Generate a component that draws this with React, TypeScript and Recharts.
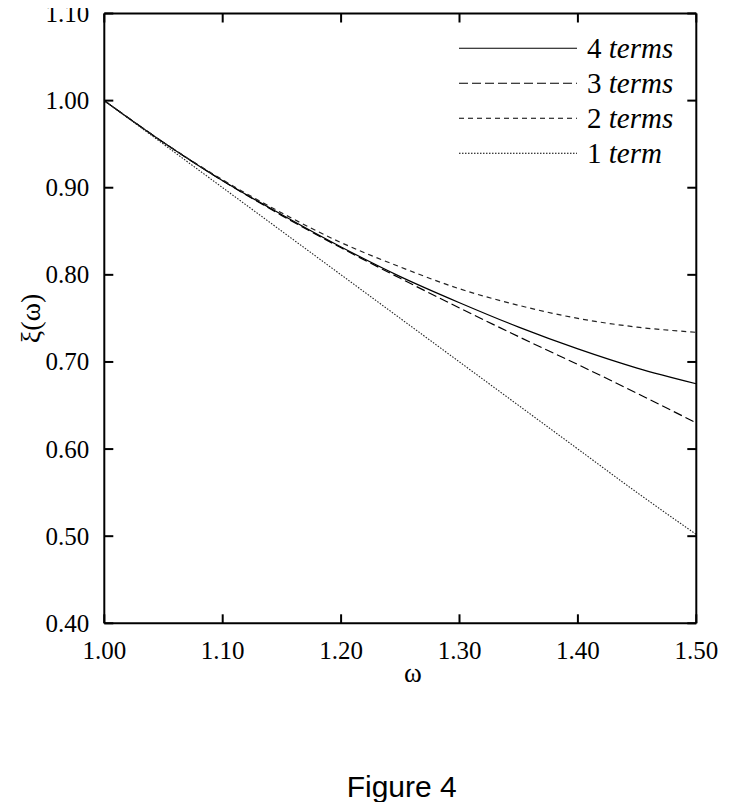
import React from 'react';
import { LineChart, Line, XAxis, YAxis } from 'recharts';

const omega = [1.0, 1.05, 1.1, 1.15, 1.2, 1.25, 1.3, 1.35, 1.4, 1.45, 1.5];
const term4 = [1.0, 0.952, 0.908, 0.869, 0.832, 0.798, 0.768, 0.74, 0.715, 0.693, 0.675];
const term3 = [1.0, 0.952, 0.908, 0.868, 0.831, 0.796, 0.762, 0.729, 0.697, 0.664, 0.63];
const term2 = [1.0, 0.952, 0.909, 0.871, 0.837, 0.809, 0.784, 0.765, 0.75, 0.74, 0.734];
const term1 = [1.0, 0.95, 0.9, 0.85, 0.8, 0.75, 0.7, 0.65, 0.6, 0.55, 0.502];

const xTicks = [1.0, 1.1, 1.2, 1.3, 1.4, 1.5];
const yTicks = [0.4, 0.5, 0.6, 0.7, 0.8, 0.9, 1.0, 1.1];

const seriesNames = ['4 terms', '3 terms', '2 terms', '1 term'];

const data = omega.map((w, i) => ({
  w,
  t4: term4[i],
  t3: term3[i],
  t2: term2[i],
  t1: term1[i],
}));

const SERIF = '"Liberation Serif", "DejaVu Serif", serif';
const TICK = 9;

const BottomTick = (props: any) => {
  const { x, y, payload } = props;
  return (
    <g>
      <line x1={x} y1={y} x2={x} y2={y - TICK} stroke="#000" strokeWidth={2} />
      <text x={x} y={y + 36} textAnchor="middle" fontSize={25} fontFamily={SERIF} fill="#000">
        {Number(payload.value).toFixed(2)}
      </text>
    </g>
  );
};

const TopTick = (props: any) => {
  const { x, y } = props;
  return <line x1={x} y1={y} x2={x} y2={y + TICK} stroke="#000" strokeWidth={2} />;
};

const LeftTick = (props: any) => {
  const { x, y, payload } = props;
  return (
    <g>
      <line x1={x} y1={y} x2={x + TICK} y2={y} stroke="#000" strokeWidth={2} />
      <text x={x - 15} y={y + 8.5} textAnchor="end" fontSize={25} fontFamily={SERIF} fill="#000">
        {Number(payload.value).toFixed(2)}
      </text>
    </g>
  );
};

const RightTick = (props: any) => {
  const { x, y } = props;
  return <line x1={x} y1={y} x2={x - TICK} y2={y} stroke="#000" strokeWidth={2} />;
};

const dashes: Record<string, string | undefined> = {
  '4 terms': undefined,
  '3 terms': '9 4',
  '2 terms': '5 4',
  '1 term': '1.5 1.5',
};

const LegendBox = () => (
  <svg width={280} height={150} style={{ position: 'absolute', left: 440, top: 30, overflow: 'visible' }}>
    {seriesNames.map((name, i) => {
      const cy = 18.3 + i * 35;
      const [num, ...rest] = name.split(' ');
      return (
        <g key={name}>
          <line x1={11} y1={cy} x2={129} y2={cy} stroke="#000" strokeWidth={1.1} strokeDasharray={dashes[name]} />
          <text x={139} y={cy + 9.5} fontSize={29} fontFamily={SERIF} fill="#000">
            {num + ' '}
            <tspan fontStyle="italic">{rest.join(' ')}</tspan>
          </text>
        </g>
      );
    })}
  </svg>
);

const YLabel = () => (
  <text
    x={32}
    y={318.4}
    transform="rotate(-90 32 318.4)"
    textAnchor="middle"
    fontSize={28}
    fontFamily={SERIF}
    fill="#000"
  >
    ξ(ω)
  </text>
);

export default function App() {
  return (
    <div style={{ position: 'relative', width: 731, height: 802, marginTop: -8 }}>
      <LineChart
        width={731}
        height={708}
        data={data}
        style={{ overflow: 'visible' }}
        margin={{ top: 12.5, right: 41.7, left: 36.3, bottom: 24.7 }}
      >
        <XAxis
          xAxisId="b"
          dataKey="w"
          type="number"
          domain={[1.0, 1.5]}
          ticks={xTicks}
          allowDataOverflow
          height={60}
          tickSize={0}
          tickMargin={0}
          tickLine={false}
          tick={<BottomTick />}
          axisLine={{ stroke: '#000', strokeWidth: 2 }}
          interval={0}
          label={() => (
            <text x={405} y={682} textAnchor="middle" fontSize={27} fontFamily={SERIF} fill="#000">
              ω
            </text>
          )}
        />
        <XAxis
          xAxisId="t"
          orientation="top"
          dataKey="w"
          type="number"
          domain={[1.0, 1.5]}
          ticks={xTicks}
          allowDataOverflow
          height={1}
          tickSize={0}
          tickMargin={0}
          tickLine={false}
          tick={<TopTick />}
          axisLine={{ stroke: '#000', strokeWidth: 2 }}
          interval={0}
        />
        <YAxis
          yAxisId="l"
          type="number"
          domain={[0.4, 1.1]}
          ticks={yTicks}
          allowDataOverflow
          width={60}
          tickSize={0}
          tickMargin={0}
          tickLine={false}
          tick={<LeftTick />}
          axisLine={{ stroke: '#000', strokeWidth: 2 }}
          interval={0}
          label={() => <YLabel />}
        />
        <YAxis
          yAxisId="r"
          orientation="right"
          type="number"
          domain={[0.4, 1.1]}
          ticks={yTicks}
          allowDataOverflow
          width={1}
          tickSize={0}
          tickMargin={0}
          tickLine={false}
          tick={<RightTick />}
          axisLine={{ stroke: '#000', strokeWidth: 2 }}
          interval={0}
        />
        <Line xAxisId="b" yAxisId="l" name="4 terms" dataKey="t4" type="monotone" stroke="#000" strokeWidth={1.2} dot={false} isAnimationActive={false} />
        <Line xAxisId="b" yAxisId="l" name="3 terms" dataKey="t3" type="monotone" stroke="#000" strokeWidth={1.2} strokeDasharray="9 4" dot={false} isAnimationActive={false} />
        <Line xAxisId="b" yAxisId="l" name="2 terms" dataKey="t2" type="monotone" stroke="#222" strokeWidth={1.2} strokeDasharray="5 4" dot={false} isAnimationActive={false} />
        <Line xAxisId="b" yAxisId="l" name="1 term" dataKey="t1" type="monotone" stroke="#222" strokeWidth={1.1} strokeDasharray="1.5 1.5" dot={false} isAnimationActive={false} />
      </LineChart>
      <LegendBox />
      <svg width={731} height={94} style={{ position: 'absolute', left: 0, top: 708 }}>
        <text x={393.7} y={89} textAnchor="middle" fontSize={30} fontFamily='"Liberation Sans", Arial, sans-serif' fill="#000">
          Figure 4
        </text>
      </svg>
    </div>
  );
}
